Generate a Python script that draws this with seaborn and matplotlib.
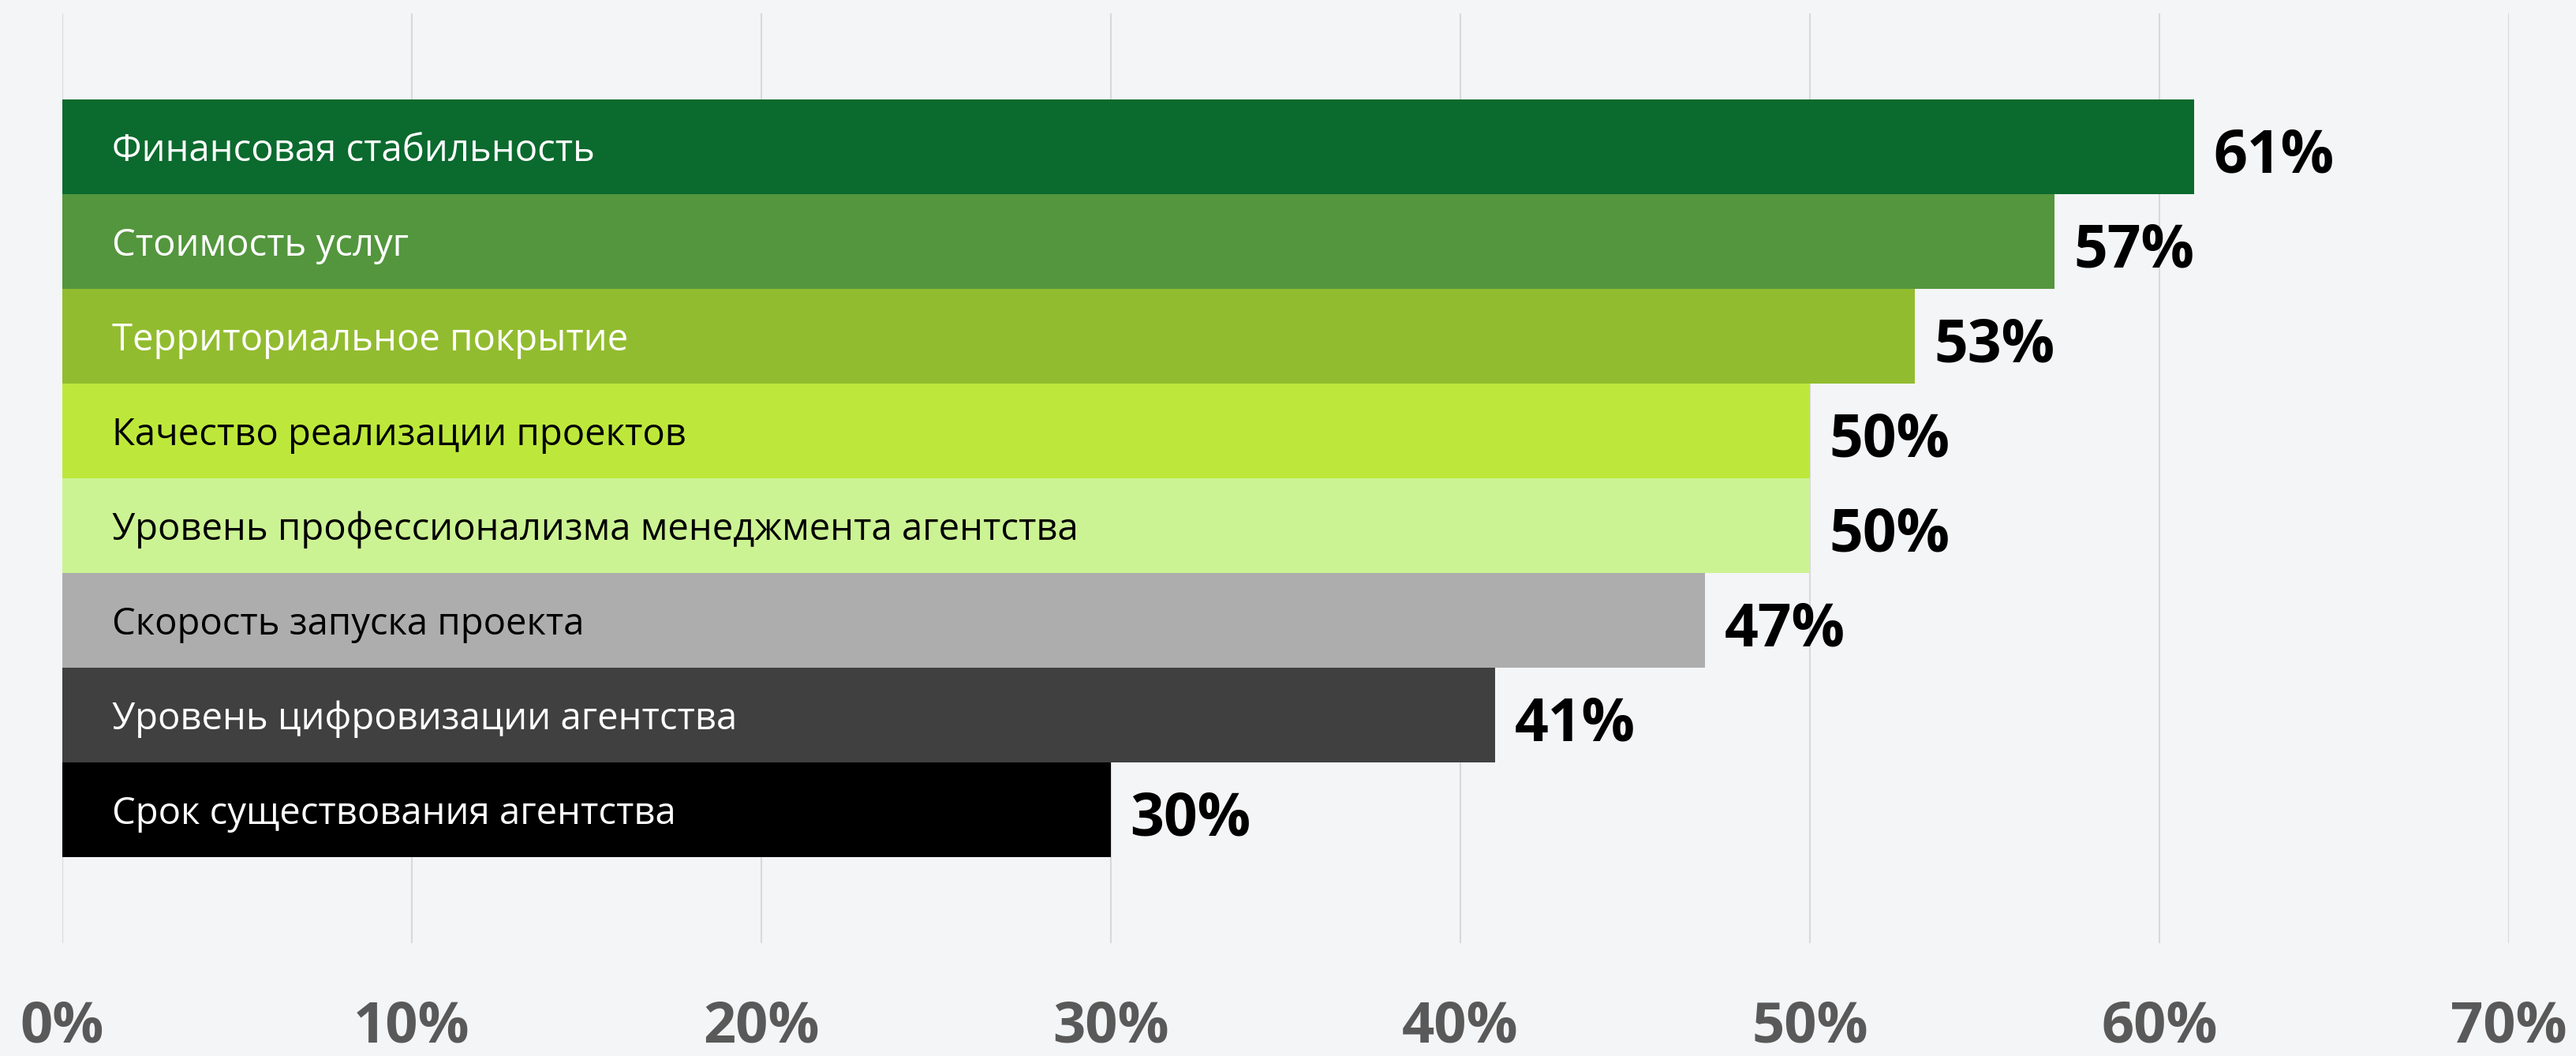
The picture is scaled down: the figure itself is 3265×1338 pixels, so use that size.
import matplotlib
matplotlib.use("Agg")
import matplotlib.pyplot as plt
import seaborn as sns
import pandas as pd
from matplotlib.ticker import FixedLocator, FuncFormatter

categories = [
    "Финансовая стабильность",
    "Стоимость услуг",
    "Территориальное покрытие",
    "Качество реализации проектов",
    "Уровень профессионализма менеджмента агентства",
    "Скорость запуска проекта",
    "Уровень цифровизации агентства",
    "Срок существования агентства",
]
values = [61, 57, 53, 50, 50, 47, 41, 30]
x_ticks = [0, 10, 20, 30, 40, 50, 60, 70]

bar_colors = ["#0B6A2E", "#53963D", "#92BC2F", "#BDE83B", "#CCF393",
              "#ADADAD", "#404040", "#000000"]
text_colors = ["white", "white", "white", "black", "black", "black", "white", "white"]

BG = "#F4F5F7"
FONT = ["Open Sans", "DejaVu Sans"]

sns.set_theme(style="white")
plt.rcParams["font.family"] = FONT

df = pd.DataFrame({"category": categories, "value": values})

fig = plt.figure(figsize=(32.65, 13.38), dpi=100, facecolor=BG)
ax = fig.add_axes([79 / 3265, (1338 - 1195) / 1338, (3180 - 79) / 3265, (1195 - 17) / 1338])
ax.set_facecolor(BG)

sns.barplot(data=df, y="category", x="value", hue="category", palette=bar_colors,
            orient="h", width=1.0, dodge=False, legend=False, saturation=1.0,
            linewidth=0, ax=ax, zorder=2)

ax.set_xlim(0, 70)
ax.set_ylim(7.5 + 0.908, -0.5 - 0.908)
ax.xaxis.set_major_locator(FixedLocator(x_ticks))
ax.xaxis.set_major_formatter(FuncFormatter(lambda v, p: f"{int(v)}%"))
ax.grid(axis="x", color="#D9D9D9", linewidth=1.5, zorder=0)
ax.set_axisbelow(True)
ax.set_yticks([])
ax.set_xlabel("")
ax.set_ylabel("")
for s in ax.spines.values():
    s.set_visible(False)
ax.tick_params(axis="x", length=0, pad=51, labelsize=52, labelcolor="#595959")
for lbl in ax.get_xticklabels():
    lbl.set_fontweight("bold")

for i, (cat, val) in enumerate(zip(categories, values)):
    ax.text(1.42, i, cat, ha="left", va="center_baseline", fontsize=34,
            color=text_colors[i], zorder=3)
    ax.text(val + 0.55, i + 0.03, f"{val}%", ha="left", va="center_baseline", fontsize=54,
            fontweight="bold", color="black", zorder=3)

fig.savefig("out.png", dpi=100, facecolor=BG)
